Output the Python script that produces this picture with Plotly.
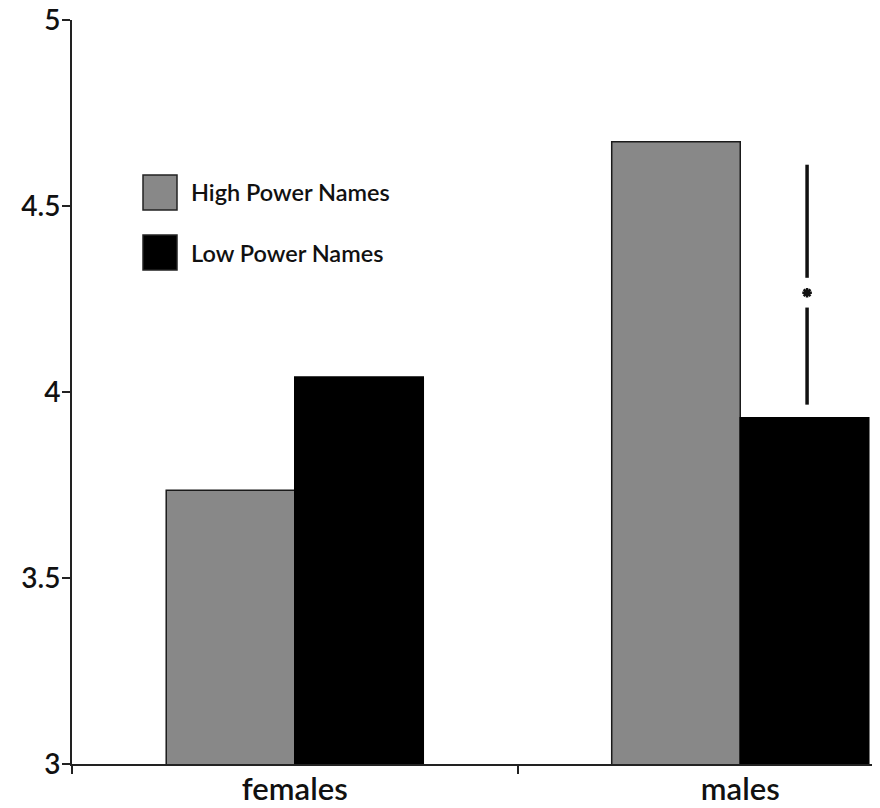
import plotly.graph_objects as go

categories = ["females", "males"]
series_names = ["High Power Names", "Low Power Names"]
high_power = [3.736, 4.673]
low_power = [4.04, 3.931]
y_ticks = [3, 3.5, 4, 4.5, 5]
y_tick_labels = ["3", "3.5", "4", "4.5", "5"]

# significance marker (males): line spans and asterisk position
sig_x = 1.15
sig_top = 4.611
sig_gap_top = 4.307
sig_gap_bottom = 4.227
sig_bottom = 3.966
sig_star = 4.267

FONT = "Lato"
colors = ["#888888", "#000000"]
X_RANGE = [-0.5, 1.3137]

# page body has an 8px margin, so the figure is 8px smaller and shifted
W, H = 872, 800
ML, MT, MB = 64, 12, 44
PW, PH = W - ML, H - MT - MB

fig = go.Figure()
fig.add_trace(go.Bar(x=categories, y=high_power, name=series_names[0],
                     marker=dict(color=colors[0], line=dict(color="#1a1a1a", width=1.5)),
                     showlegend=False))
fig.add_trace(go.Bar(x=categories, y=low_power, name=series_names[1],
                     marker=dict(color=colors[1], line=dict(color="#000000", width=1.5)),
                     showlegend=False))

# significance line (on an overlaid linear axis sharing the category index space)
fig.add_trace(go.Scatter(x=[sig_x, sig_x, None, sig_x, sig_x],
                         y=[sig_top, sig_gap_top, None, sig_gap_bottom, sig_bottom],
                         xaxis="x2", mode="lines", line=dict(color="#111111", width=3.5),
                         showlegend=False, hoverinfo="skip"))
fig.add_trace(go.Scatter(x=[sig_x], y=[sig_star], xaxis="x2", mode="markers",
                         marker=dict(symbol="asterisk-open", size=8, color="#111111",
                                     line=dict(color="#111111", width=2.5)),
                         showlegend=False, hoverinfo="skip"))

# custom legend (positions in reference-page pixels, plot area starts at 72,20)
legend_rows = [(175, 210), (235, 270)]
for (y0, y1), name, col in zip(legend_rows, series_names, colors):
    fig.add_shape(type="rect", xref="paper", yref="paper",
                  x0=(143 - 72) / PW, x1=(177 - 72) / PW,
                  y0=1 - (y1 - 20) / PH, y1=1 - (y0 - 20) / PH,
                  fillcolor=col, line=dict(color="#222222", width=1.5))
    fig.add_annotation(xref="paper", yref="paper", x=(189 - 72) / PW,
                       y=1 - ((y0 + y1) / 2 - 20) / PH, text=name, showarrow=False,
                       xanchor="left", yanchor="middle",
                       font=dict(family=FONT, size=23.5, color="#111111", weight=600))

fig.update_layout(
    width=W, height=H,
    margin=dict(l=ML, r=0, t=MT, b=MB, autoexpand=False),
    paper_bgcolor="white", plot_bgcolor="white",
    barmode="group", bargap=0.423, bargroupgap=0,
    font=dict(family=FONT, size=31, color="#111111"),
    xaxis=dict(type="category", range=X_RANGE, showline=True, automargin=False,
               linecolor="#222222", linewidth=2, ticks="outside",
               tickson="boundaries", ticklen=8, tickwidth=1.5, tickcolor="#222222",
               showgrid=False, zeroline=False, ticklabeloverflow="allow",
               ticklabelstandoff=-3,
               tickfont=dict(family=FONT, size=31, color="#111111", weight=600)),
    xaxis2=dict(range=X_RANGE, overlaying="x", visible=False, automargin=False),
    yaxis=dict(range=[3, 5], tickvals=y_ticks, ticktext=y_tick_labels,
               showline=True, linecolor="#222222", linewidth=2, automargin=False,
               ticks="outside", ticklen=8, tickwidth=1.5, tickcolor="#222222",
               showgrid=False, zeroline=False, ticklabeloverflow="allow",
               ticklabelstandoff=-4,
               tickfont=dict(family=FONT, size=28, color="#111111", weight=600)),
)

fig.write_html("out.html")
